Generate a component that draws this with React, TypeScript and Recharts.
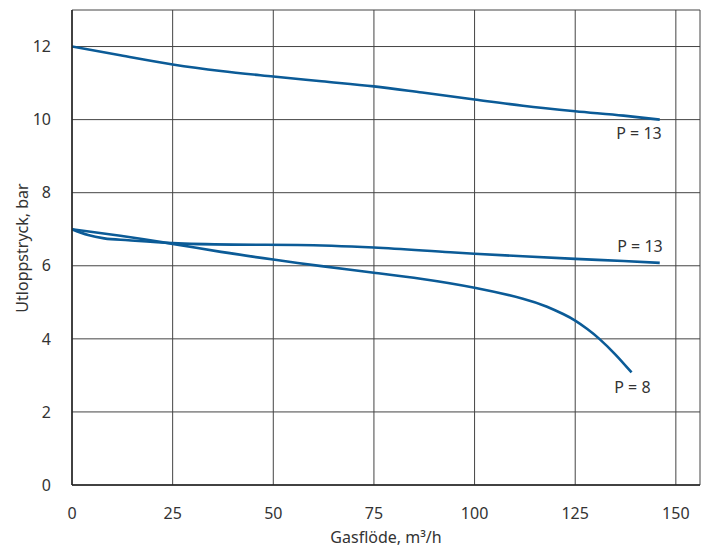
import React from 'react';
import {
  LineChart, Line, XAxis, YAxis, CartesianGrid, ReferenceDot, Label,
} from 'recharts';

// upper curve, P = 13
const upperFlow = [0, 12, 25, 37, 50, 62, 75, 87, 100, 112, 125, 137, 146];
const upperPressure = [12.0, 11.76, 11.51, 11.33, 11.18, 11.05, 10.91, 10.74, 10.55, 10.38, 10.23, 10.11, 10.0];

// middle curve, P = 13
const midFlow = [0, 4, 8, 14, 25, 40, 56, 75, 94, 100, 112, 125, 137, 146];
const midPressure = [7.0, 6.84, 6.75, 6.7, 6.62, 6.58, 6.57, 6.5, 6.37, 6.33, 6.26, 6.19, 6.13, 6.08];

// lower curve, P = 8
const lowFlow = [0, 12, 25, 37, 50, 62, 75, 87, 100, 112, 118, 122, 125, 128, 131, 135, 139];
const lowPressure = [7.0, 6.82, 6.6, 6.38, 6.17, 5.99, 5.81, 5.64, 5.4, 5.1, 4.88, 4.68, 4.5, 4.27, 4.0, 3.57, 3.08];

const xTicks = [0, 25, 50, 75, 100, 125, 150];
const yTicks = [0, 2, 4, 6, 8, 10, 12];

const toRows = (xs: number[], ys: number[]) => xs.map((x, i) => ({ x, y: ys[i] }));

const upper = toRows(upperFlow, upperPressure);
const mid = toRows(midFlow, midPressure);
const low = toRows(lowFlow, lowPressure);

const LINE = '#0b5b97';
const TEXT = '#333';
const FONT = '"Noto Sans", "Open Sans", sans-serif';

const endLabel = (text: string, dx: number, dy: number) => (props: any) => {
  const { viewBox } = props;
  const cx = viewBox.x + viewBox.width / 2;
  const cy = viewBox.y + viewBox.height / 2;
  return (
    <text x={cx + dx} y={cy + dy} textAnchor="end" dominantBaseline="central"
      fontFamily={FONT} fontSize={16} fill={TEXT}>
      {text}
    </text>
  );
};

const YTitle = () => (
  <text x={22} y={248} transform="rotate(-90, 22, 248)" textAnchor="middle"
    dominantBaseline="central" fontFamily={FONT} fontSize={16} fill={TEXT}>
    Utloppstryck, bar
  </text>
);

export default function App() {
  const tickStyle = { fontFamily: FONT, fontSize: 16, fill: TEXT };
  const last = (d: { x: number; y: number }[]) => d[d.length - 1];
  return (
    <div style={{ position: 'absolute', left: 0, top: 0 }}>
      <LineChart width={710} height={551} margin={{ top: 10, right: 10, left: 0, bottom: 0 }}>
        <CartesianGrid stroke="#444" strokeWidth={1} />
        <XAxis
          type="number" dataKey="x" domain={[0, 156]} ticks={xTicks}
          allowDataOverflow height={66} tickLine={false} tickMargin={17}
          axisLine={{ stroke: '#222', strokeWidth: 1.5 }} tick={tickStyle}
        >
          <Label value="Gasflöde, m³/h" position="insideBottom" offset={8}
            style={{ fontFamily: FONT, fontSize: 16, fill: TEXT }} />
        </XAxis>
        <YAxis
          type="number" dataKey="y" domain={[0, 13]} ticks={yTicks}
          allowDataOverflow width={72} tickLine={false} tickMargin={15}
          axisLine={{ stroke: '#222', strokeWidth: 1.5 }} tick={tickStyle}
          label={<YTitle />}
        />
        <Line data={upper} dataKey="y" type="monotone" stroke={LINE} strokeWidth={2.6}
          dot={false} isAnimationActive={false} />
        <Line data={mid} dataKey="y" type="monotone" stroke={LINE} strokeWidth={2.6}
          dot={false} isAnimationActive={false} />
        <Line data={low} dataKey="y" type="natural" stroke={LINE} strokeWidth={2.6}
          dot={false} isAnimationActive={false} />
        <ReferenceDot x={last(upper).x} y={last(upper).y} r={0} stroke="none"
          label={endLabel('P = 13', 2, 13)} />
        <ReferenceDot x={last(mid).x} y={last(mid).y} r={0} stroke="none"
          label={endLabel('P = 13', 3, -17)} />
        <ReferenceDot x={last(low).x} y={last(low).y} r={0} stroke="none"
          label={endLabel('P = 8', 19, 15)} />
      </LineChart>
    </div>
  );
}
